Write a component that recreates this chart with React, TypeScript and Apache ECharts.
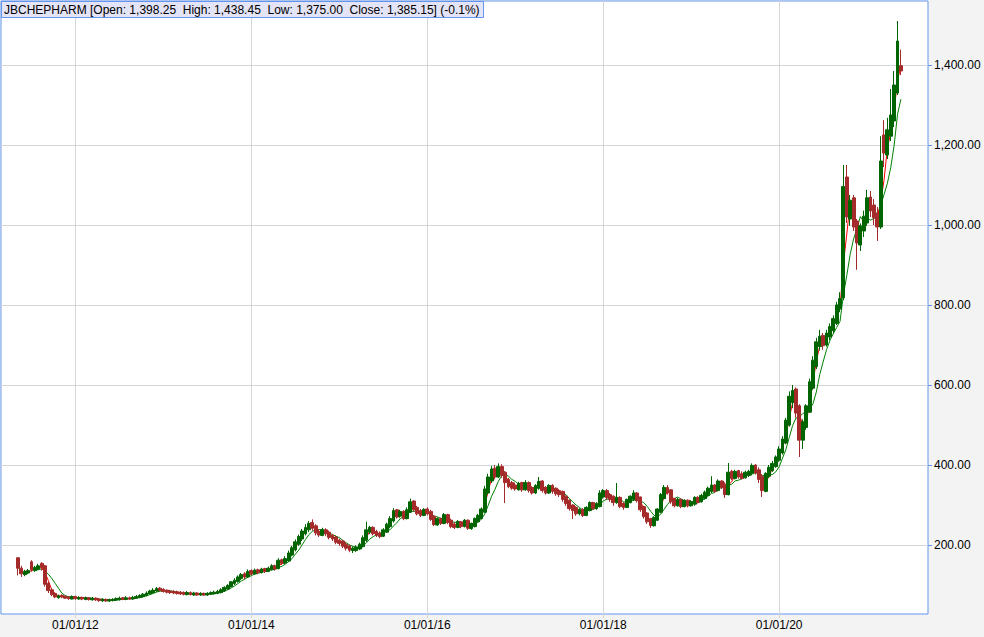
import React, { useEffect, useRef } from 'react';
import * as echarts from 'echarts';

// ---------- data ----------
const SYMBOL = 'JBCHEPHARM';
const CHANGE_TEXT = '(-0.1%)';

// one candle per two weeks: [open, close, low, high]
const seg2011 = [
  [168, 142, 124, 170], [142, 128, 120, 148], [126, 134, 122, 138], [130, 136, 127, 140],
  [158, 138, 133, 162], [136, 144, 133, 148], [140, 148, 138, 153], [154, 144, 136, 157],
  [148, 102, 96, 150], [104, 86, 80, 108], [88, 76, 72, 92], [79, 70, 67, 82],
  [68, 73, 66, 76], [74, 70, 67, 77], [72, 67, 65, 74], [70, 66, 63, 72], [65, 71, 64, 74],
];
const seg2012 = [
  [71, 66, 63, 73], [65, 69, 63, 72], [69, 65, 62, 71], [64, 68, 62, 71], [68, 64, 61, 70],
  [63, 67, 61, 70], [67, 63, 60, 69], [65, 61, 58, 67], [60, 64, 58, 67], [64, 60, 58, 66],
  [60, 63, 58, 66], [61, 64, 59, 67], [62, 66, 60, 69], [63, 67, 61, 71], [68, 64, 62, 70],
  [64, 68, 62, 72], [68, 65, 63, 71], [65, 69, 63, 73], [67, 71, 65, 75], [69, 74, 67, 77],
  [71, 77, 69, 80], [74, 80, 72, 84], [78, 85, 76, 88], [81, 87, 79, 92], [85, 91, 83, 95],
  [92, 87, 84, 95],
];
const seg2013 = [
  [89, 84, 81, 92], [87, 82, 79, 89], [85, 81, 78, 88], [84, 80, 77, 87], [83, 79, 76, 86],
  [82, 78, 75, 85], [81, 77, 74, 84], [76, 81, 74, 85], [81, 76, 74, 84], [75, 80, 73, 83],
  [80, 75, 73, 82], [75, 79, 73, 82], [79, 75, 73, 81], [75, 79, 73, 82], [77, 81, 75, 84],
  [78, 82, 76, 86], [79, 84, 77, 88], [81, 88, 79, 92], [85, 94, 83, 97], [90, 99, 88, 102],
  [96, 108, 94, 110], [104, 112, 100, 117], [109, 120, 106, 124], [116, 126, 112, 130],
  [128, 120, 114, 132], [120, 134, 118, 139],
];
const seg2014 = [
  [136, 128, 124, 139], [128, 137, 126, 141], [138, 131, 127, 141], [131, 140, 129, 143],
  [141, 134, 130, 143], [134, 142, 132, 146], [138, 148, 136, 152], [148, 140, 136, 151],
  [141, 162, 139, 167], [163, 154, 150, 166], [155, 166, 152, 172], [160, 180, 158, 186],
  [175, 193, 172, 198], [188, 208, 184, 214], [202, 221, 198, 226], [215, 235, 210, 240],
  [228, 244, 224, 252], [238, 254, 232, 260], [256, 242, 236, 264], [248, 230, 224, 252],
  [234, 225, 220, 240], [224, 238, 222, 243], [238, 228, 222, 242], [232, 219, 214, 236],
  [224, 215, 210, 228], [220, 207, 202, 224],
];
const seg2015 = [
  [212, 204, 198, 216], [210, 197, 192, 213], [202, 192, 186, 206], [198, 187, 182, 201],
  [186, 192, 180, 196], [186, 195, 183, 199], [190, 202, 187, 206], [196, 218, 194, 224],
  [212, 238, 208, 258], [232, 244, 227, 248], [244, 228, 224, 247], [234, 224, 220, 238],
  [230, 221, 217, 234], [222, 238, 220, 242], [232, 252, 230, 256], [246, 266, 242, 272],
  [260, 286, 256, 292], [288, 270, 266, 290], [272, 284, 268, 288], [284, 266, 262, 287],
  [266, 288, 264, 294], [282, 308, 280, 316], [310, 288, 284, 312], [294, 278, 274, 298],
  [286, 274, 270, 290], [274, 289, 272, 292],
];
const seg2016 = [
  [290, 278, 274, 294], [284, 264, 260, 288], [272, 251, 247, 274], [250, 266, 248, 269],
  [266, 254, 250, 268], [254, 276, 252, 280], [276, 256, 252, 278], [262, 246, 242, 266],
  [252, 244, 240, 257], [244, 259, 242, 262], [258, 246, 242, 260], [246, 262, 244, 265],
  [262, 242, 238, 264], [241, 254, 238, 256], [246, 266, 244, 269], [258, 274, 256, 278],
  [266, 290, 264, 294], [282, 340, 280, 348], [330, 370, 326, 378], [360, 390, 355, 398],
  [392, 370, 364, 400], [370, 396, 368, 404], [396, 374, 368, 402], [382, 356, 305, 385],
  [364, 346, 342, 368], [356, 342, 338, 360], [350, 340, 336, 356],
];
const seg2017 = [
  [338, 354, 336, 358], [356, 338, 333, 358], [338, 356, 336, 362], [356, 336, 331, 359],
  [344, 330, 326, 347], [330, 349, 328, 352], [342, 359, 338, 370], [360, 336, 331, 362],
  [344, 330, 326, 347], [330, 349, 328, 352], [349, 334, 328, 352], [342, 328, 323, 344],
  [336, 326, 320, 340], [334, 314, 308, 336], [322, 304, 298, 324], [312, 291, 286, 314],
  [300, 286, 265, 302], [294, 278, 273, 297], [278, 289, 274, 292], [289, 274, 270, 292],
  [274, 294, 272, 297], [286, 306, 284, 309], [306, 291, 288, 308], [291, 304, 288, 307],
  [296, 330, 294, 337], [320, 336, 316, 340],
];
const seg2018 = [
  [336, 318, 313, 340], [326, 314, 308, 330], [322, 306, 298, 324], [306, 318, 303, 355],
  [319, 296, 292, 322], [304, 294, 288, 307], [294, 314, 293, 316], [306, 322, 304, 324],
  [314, 330, 310, 337], [330, 311, 306, 332], [320, 288, 283, 321], [296, 271, 266, 298],
  [280, 258, 253, 282], [266, 249, 243, 268], [248, 269, 246, 272], [262, 290, 260, 292],
  [282, 326, 280, 330], [316, 344, 314, 350], [344, 330, 326, 350], [338, 308, 303, 340],
  [316, 298, 294, 318], [298, 314, 296, 318], [314, 296, 292, 316], [296, 312, 294, 314],
  [312, 298, 294, 314], [298, 309, 296, 312],
];
const seg2019 = [
  [302, 319, 298, 322], [319, 306, 304, 322], [308, 324, 306, 328], [316, 332, 314, 336],
  [324, 342, 322, 346], [334, 350, 330, 372], [350, 334, 331, 352], [336, 360, 334, 364],
  [360, 344, 340, 362], [352, 326, 318, 357], [326, 382, 324, 405], [384, 366, 362, 388],
  [366, 384, 364, 388], [386, 370, 366, 388], [378, 366, 364, 384], [368, 382, 366, 386],
  [374, 384, 370, 388], [378, 399, 374, 404], [400, 380, 376, 402], [388, 364, 355, 394],
  [372, 336, 320, 377], [334, 379, 332, 382], [372, 394, 368, 400], [386, 404, 383, 410],
  [396, 420, 393, 424], [412, 440, 408, 447],
];
const seg2020 = [
  [430, 465, 426, 472], [455, 512, 452, 518], [500, 572, 496, 584], [556, 586, 542, 600],
  [590, 530, 518, 594], [548, 462, 420, 552], [462, 508, 440, 514], [494, 548, 488, 552],
  [532, 608, 530, 616], [592, 662, 588, 672], [646, 708, 640, 718], [696, 722, 686, 738],
  [724, 698, 688, 730], [700, 730, 696, 738], [720, 746, 712, 754], [736, 766, 728, 774],
  [754, 800, 750, 808], [790, 816, 782, 832], [818, 1096, 812, 1150], [1120, 1020, 1005, 1150],
  [1015, 1062, 998, 1075], [1068, 995, 985, 1075], [1010, 955, 888, 1015], [950, 998, 935, 1004],
  [985, 1022, 970, 1036], [1005, 1068, 998, 1088],
];
const seg2021 = [
  [1070, 1035, 1020, 1085], [1050, 1018, 1000, 1065], [1030, 995, 960, 1045],
  [995, 1160, 990, 1222], [1225, 1180, 1145, 1262], [1175, 1238, 1165, 1268],
  [1222, 1275, 1210, 1340], [1260, 1350, 1245, 1385], [1330, 1460, 1325, 1510],
  [1398.25, 1385.15, 1375.0, 1438.45],
];

const candles = [
  ...seg2011, ...seg2012, ...seg2013, ...seg2014, ...seg2015, ...seg2016,
  ...seg2017, ...seg2018, ...seg2019, ...seg2020, ...seg2021,
];

// categories: two-week periods starting from the first candle
const FIRST_DATE = '2011-05-13';
const STEP_DAYS = 14;
const PAD_BEFORE = 5;
const PAD_AFTER = 8;

const xTickDates = ['2012-01-01', '2014-01-01', '2016-01-01', '2018-01-01', '2020-01-01'];
const xTickLabels = ['01/01/12', '01/01/14', '01/01/16', '01/01/18', '01/01/20'];
const yTickValues = [200, 400, 600, 800, 1000, 1200, 1400];
const Y_MIN = 27.5;
const Y_MAX = 1560;
const MA_FAST = 3;
const MA_SLOW = 6;

// ---------- derived ----------
const DAY = 86400000;
const t0 = Date.parse(FIRST_DATE + 'T00:00:00Z');
const categories: string[] = [];
for (let k = 0; k < PAD_BEFORE + candles.length + PAD_AFTER; k++) {
  categories.push(new Date(t0 + (k - PAD_BEFORE) * STEP_DAYS * DAY).toISOString().slice(0, 10));
}
const labelAt = new Map<number, string>();
xTickDates.forEach((d, j) => {
  const td = Date.parse(d + 'T00:00:00Z');
  let best = 0;
  let bd = Infinity;
  categories.forEach((c, k) => {
    const dd = Math.abs(Date.parse(c + 'T00:00:00Z') - td);
    if (dd < bd) { bd = dd; best = k; }
  });
  labelAt.set(best, xTickLabels[j]);
});

const candleData = candles.map((c, i) => [i + PAD_BEFORE, c[0], c[1], c[2], c[3]]);

function movingAverage(n: number) {
  const out: number[][] = [];
  for (let i = n - 1; i < candles.length; i++) {
    let s = 0;
    for (let j = i - n + 1; j <= i; j++) s += candles[j][1];
    out.push([i + PAD_BEFORE, +(s / n).toFixed(2)]);
  }
  return out;
}

const fmt = (v: number) =>
  v.toLocaleString('en-US', { minimumFractionDigits: 2, maximumFractionDigits: 2 });

const last = candles[candles.length - 1];
const titleText = `${SYMBOL} [Open: ${fmt(last[0])}  High: ${fmt(last[3])}  Low: ${fmt(last[2])}  Close: ${fmt(last[1])}] ${CHANGE_TEXT}`;

const FONT = '"Liberation Sans", Arial, sans-serif';
const BLUE = '#6495ed';
const GRID = '#d6d6d6';
const UP = '#006400';
const DOWN = '#a52a2a';

export default function App() {
  const ref = useRef<HTMLDivElement>(null);
  useEffect(() => {
    const chart = echarts.init(ref.current!, null, { renderer: 'svg' });
    const isLabel = (i: number) => labelAt.has(i);
    chart.setOption({
      animation: false,
      backgroundColor: '#f3f3f3',
      textStyle: { fontFamily: FONT },
      title: {
        text: titleText,
        left: 1,
        top: 1,
        padding: [1, 4, 1, 3],
        backgroundColor: '#e4e4f8',
        borderColor: BLUE,
        borderWidth: 1,
        textStyle: { fontSize: 12, fontWeight: 'normal', color: '#000', fontFamily: FONT, lineHeight: 15 },
      },
      grid: {
        left: 1, top: 1, right: 56, bottom: 23,
        show: true, backgroundColor: '#ffffff', borderColor: BLUE, borderWidth: 1,
        outerBoundsMode: 'none',
      },
      xAxis: {
        type: 'category',
        data: categories,
        boundaryGap: false,
        axisLine: { show: false },
        axisTick: { show: true, interval: isLabel, length: 4, lineStyle: { color: GRID } },
        axisLabel: {
          interval: isLabel,
          formatter: (_v: string, i: number) => labelAt.get(i) ?? '',
          color: '#000', fontSize: 12, fontFamily: FONT, margin: 5,
        },
        splitLine: { show: true, interval: isLabel, lineStyle: { color: GRID, width: 1 } },
      },
      yAxis: {
        type: 'value',
        position: 'right',
        min: Y_MIN,
        max: Y_MAX,
        axisLine: { show: false },
        axisTick: { show: true, length: 4, customValues: yTickValues, lineStyle: { color: BLUE } },
        axisLabel: {
          customValues: yTickValues,
          formatter: (v: number) => fmt(v),
          color: '#000', fontSize: 12, fontFamily: FONT, margin: 6,
        },
        splitLine: { show: true, lineStyle: { color: GRID, width: 1 } },
      },
      series: [
        {
          type: 'line', name: 'MA ' + MA_SLOW, data: movingAverage(MA_SLOW), symbol: 'none',
          lineStyle: { color: '#008000', width: 1 }, itemStyle: { color: '#008000' }, z: 2, silent: true,
        },
        {
          type: 'line', name: 'MA ' + MA_FAST, data: movingAverage(MA_FAST), symbol: 'none',
          lineStyle: { color: '#ff0000', width: 1 }, itemStyle: { color: '#ff0000' }, z: 2, silent: true,
        },
        {
          type: 'candlestick', name: SYMBOL, data: candleData,
          encode: { x: 0, y: [1, 2, 3, 4] },
          barWidth: '100%',
          itemStyle: { color: UP, color0: DOWN, borderColor: UP, borderColor0: DOWN, borderWidth: 1 },
          z: 3,
        },
      ],
    });
    return () => chart.dispose();
  }, []);
  return (
    <div
      ref={ref}
      style={{ position: 'fixed', left: 0, top: 0, width: 984, height: 637, background: '#f3f3f3' }}
    />
  );
}
